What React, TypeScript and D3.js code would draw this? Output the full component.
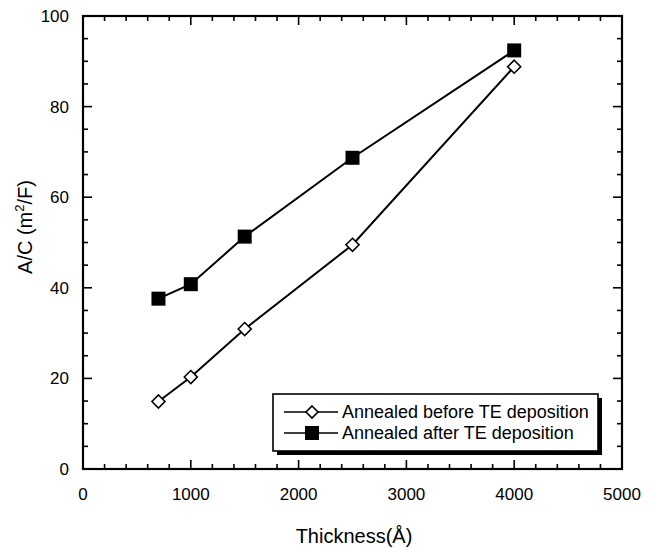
import React from "react";
import * as d3 from "d3";

const thickness = [700, 1000, 1500, 2500, 4000];
const beforeTE = [14.9, 20.3, 30.9, 49.5, 88.8];
const afterTE = [37.6, 40.8, 51.3, 68.7, 92.4];
const xTicks = [0, 1000, 2000, 3000, 4000, 5000];
const yTicks = [0, 20, 40, 60, 80, 100];
const legendLabels = ["Annealed before TE deposition", "Annealed after TE deposition"];

const W = 653, H = 548;
const L = 83, R = 622, T = 16, B = 469;
const font = "Arial, 'Liberation Sans', Helvetica, sans-serif";

export default function App() {
  const x = d3.scaleLinear().domain([0, 5000]).range([L, R]);
  const y = d3.scaleLinear().domain([0, 100]).range([B, T]);
  const line = d3.line<number>().x((_, i) => x(thickness[i])).y((v) => y(v));
  const xMinor = d3.range(0, 5001, 200);
  const yMinor = d3.range(0, 101, 5);

  const diamond = (cx: number, cy: number, r = 6.5) =>
    `M${cx},${cy - r}L${cx + r},${cy}L${cx},${cy + r}L${cx - r},${cy}Z`;

  const lx = 273, ly = 394, lw = 325, lh = 57;

  return (
    <svg width={W} height={H} style={{ position: "absolute", left: 0, top: 0, background: "#fff" }}>
      {/* ticks */}
      {xMinor.map((v) => {
        const major = v % 1000 === 0;
        const len = major ? 9 : 5;
        return (
          <g key={"xt" + v} stroke="#000" strokeWidth={1.6}>
            <line x1={x(v)} x2={x(v)} y1={B} y2={B - len} />
            <line x1={x(v)} x2={x(v)} y1={T} y2={T + len} />
          </g>
        );
      })}
      {yMinor.map((v) => {
        const major = v % 20 === 0;
        const len = major ? 9 : 5;
        return (
          <g key={"yt" + v} stroke="#000" strokeWidth={1.6}>
            <line x1={L} x2={L + len} y1={y(v)} y2={y(v)} />
            <line x1={R} x2={R - len} y1={y(v)} y2={y(v)} />
          </g>
        );
      })}
      <rect x={L} y={T} width={R - L} height={B - T} fill="none" stroke="#000" strokeWidth={2.2} />

      {/* tick labels */}
      {xTicks.map((v) => (
        <text key={"xl" + v} x={x(v)} y={500} textAnchor="middle" fontFamily={font} fontSize={17}>
          {v}
        </text>
      ))}
      {yTicks.map((v) => (
        <text key={"yl" + v} x={69} y={y(v) + 6} textAnchor="end" fontFamily={font} fontSize={17}>
          {v}
        </text>
      ))}

      {/* axis titles */}
      <text x={354} y={543} textAnchor="middle" fontFamily={font} fontSize={20}>
        Thickness(Å)
      </text>
      <text transform={`translate(32,227) rotate(-90)`} textAnchor="middle" fontFamily={font} fontSize={20}>
        A/C (m<tspan dy={-8} fontSize={13}>2</tspan>
        <tspan dy={8}>/F)</tspan>
      </text>

      {/* data */}
      <path d={line(beforeTE) || ""} fill="none" stroke="#000" strokeWidth={2} />
      <path d={line(afterTE) || ""} fill="none" stroke="#000" strokeWidth={2} />
      {beforeTE.map((v, i) => (
        <path key={"d" + i} d={diamond(x(thickness[i]), y(v))} fill="#fff" stroke="#000" strokeWidth={1.6} />
      ))}
      {afterTE.map((v, i) => (
        <rect key={"s" + i} x={x(thickness[i]) - 7} y={y(v) - 7} width={14} height={14} fill="#000" />
      ))}

      {/* legend */}
      <rect x={lx + 4} y={ly + 4} width={lw} height={lh} fill="#000" />
      <rect x={lx} y={ly} width={lw} height={lh} fill="#fff" stroke="#000" strokeWidth={1.6} />
      <line x1={284} x2={338} y1={412} y2={412} stroke="#000" strokeWidth={1.6} />
      <path d={diamond(312, 412, 6)} fill="#fff" stroke="#000" strokeWidth={1.6} />
      <line x1={284} x2={338} y1={433} y2={433} stroke="#000" strokeWidth={1.6} />
      <rect x={305} y={426} width={14} height={14} fill="#000" />
      <text x={342} y={418} fontFamily={font} fontSize={18}>{legendLabels[0]}</text>
      <text x={342} y={439} fontFamily={font} fontSize={18}>{legendLabels[1]}</text>
    </svg>
  );
}
